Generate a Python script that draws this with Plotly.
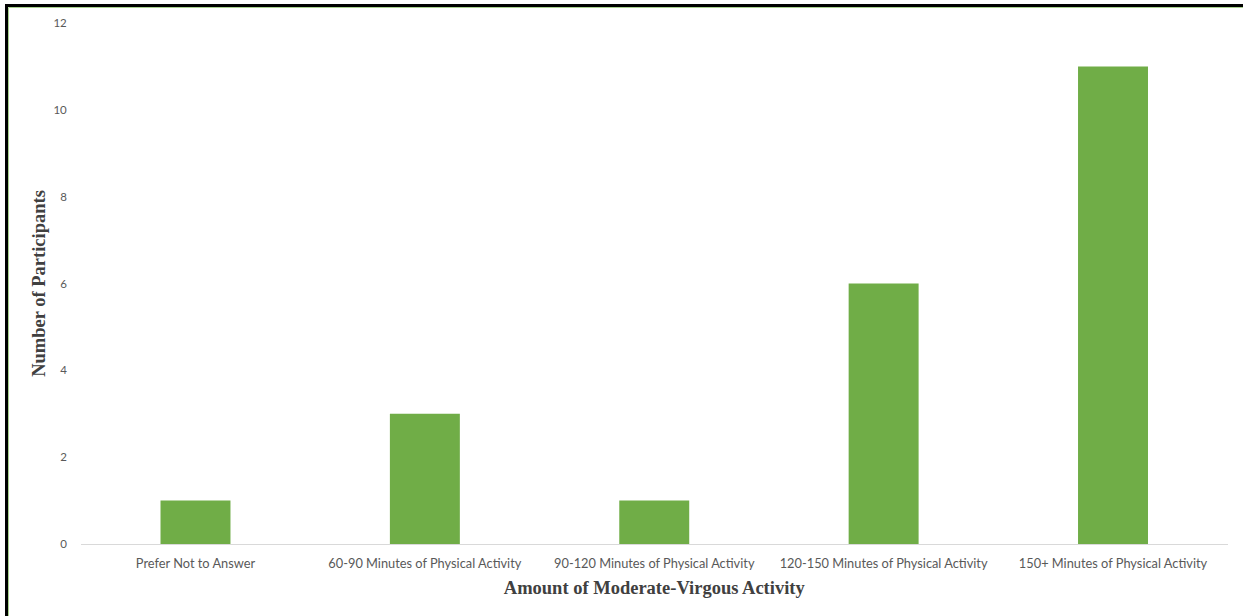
import plotly.graph_objects as go

# Survey responses: weekly moderate-to-vigorous activity
categories = [
    "Prefer Not to Answer",
    "60-90 Minutes of Physical Activity",
    "90-120 Minutes of Physical Activity",
    "120-150 Minutes of Physical Activity",
    "150+ Minutes of Physical Activity",
]
participants = [1, 3, 1, 6, 11]
y_ticks = [0, 2, 4, 6, 8, 10, 12]

W, H = 1243, 616
serif_title = dict(family="'Liberation Serif', 'Times New Roman', serif",
                   size=18.5, color="#404040", weight="bold")

fig = go.Figure(
    go.Bar(
        x=categories,
        y=participants,
        marker=dict(color="#70AD47", line=dict(width=0)),
        hoverinfo="x+y",
    )
)

fig.update_layout(
    width=W,
    height=H,
    margin=dict(l=0, r=0, t=0, b=0, autoexpand=False),
    paper_bgcolor="white",
    plot_bgcolor="white",
    bargap=0.695,
    showlegend=False,
    font=dict(family="Lato, 'Open Sans', sans-serif", color="#595959", size=11),
    xaxis=dict(
        domain=[80.8 / W, 1227.7 / W],
        automargin=False,
        showline=True,
        linecolor="#D9D9D9",
        linewidth=1,
        showgrid=False,
        ticks="",
        ticklabelstandoff=8,
        tickfont=dict(size=12.8, color="#595959"),
        title=dict(text="Amount of Moderate-Virgous Activity",
                   font=serif_title, standoff=10),
    ),
    yaxis=dict(
        domain=[(H - 544) / H, (H - 23) / H],
        automargin=False,
        range=[0, 12],
        tickvals=y_ticks,
        showgrid=False,
        zeroline=False,
        showline=False,
        ticks="",
        ticklabelstandoff=13,
        tickfont=dict(size=11.5, color="#595959"),
        title=dict(text="Number of Participants",
                   font=serif_title, standoff=2),
    ),
)

# Frame along the top and left edges
fig.add_shape(type="line", xref="paper", yref="paper",
              x0=5 / W, x1=1.0, y0=(H - 5.5) / H, y1=(H - 5.5) / H,
              line=dict(color="black", width=3))
fig.add_shape(type="line", xref="paper", yref="paper",
              x0=6.5 / W, x1=6.5 / W, y0=0, y1=(H - 4) / H,
              line=dict(color="black", width=3))
fig.add_shape(type="line", xref="paper", yref="paper",
              x0=8.5 / W, x1=1.0, y0=(H - 7.5) / H, y1=(H - 7.5) / H,
              line=dict(color="#A9D18E", width=1))
fig.add_shape(type="line", xref="paper", yref="paper",
              x0=8.5 / W, x1=8.5 / W, y0=0, y1=(H - 7.5) / H,
              line=dict(color="#A9D18E", width=1))

fig.write_html("out.html")
